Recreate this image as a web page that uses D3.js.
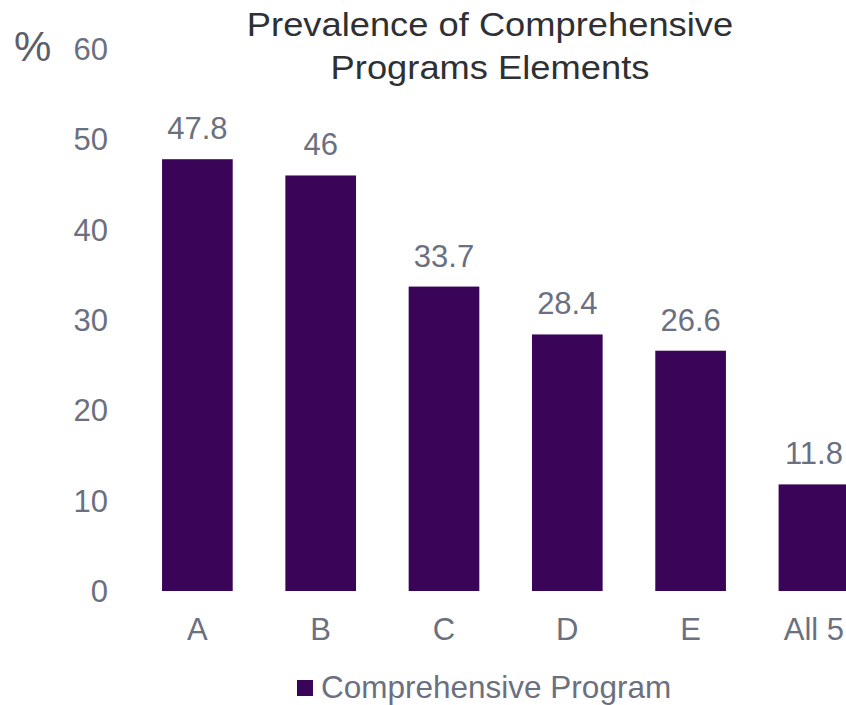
<!DOCTYPE html>
<html><head><meta charset="utf-8">
<script src="https://cdn.jsdelivr.net/npm/d3@7"></script>
<style>body{margin:0;background:#fff}svg{display:block}text{font-family:"Liberation Sans",Arial,sans-serif}</style>
</head><body>
<svg id="c" width="846" height="705"></svg>
<script>
const categories = ["A","B","C","D","E","All 5"];
const values = [47.8, 46, 33.7, 28.4, 26.6, 11.8];
const yTicks = [0,10,20,30,40,50,60];
const titleLines = ["Prevalence of Comprehensive","Programs Elements"];
const seriesName = "Comprehensive Program";

const svg = d3.select("#c");
const barColor = "#3a0459", textGray = "#6b7080", titleColor = "#2e3034";
const y = d3.scaleLinear().domain([0,60]).range([591,49]);
const x = d3.scaleBand().domain(categories).range([109.4,901.9]).padding(0.427);

// y tick labels
svg.append("g").selectAll("text").data(yTicks).join("text")
  .attr("x",108).attr("y",d=>y(d)+11)
  .attr("text-anchor","end").attr("font-size",31).attr("fill",textGray).text(d=>d);
svg.append("text").attr("x",14).attr("y",61).attr("font-size",42).attr("fill","#5b5f6c").text("%");

// bars
svg.append("g").selectAll("rect").data(values).join("rect")
  .attr("x",(d,i)=>x(categories[i])).attr("width",x.bandwidth())
  .attr("y",d=>y(d)).attr("height",d=>y(0)-y(d)).attr("fill",barColor);

// value labels
svg.append("g").selectAll("text").data(values).join("text")
  .attr("x",(d,i)=>x(categories[i])+x.bandwidth()/2).attr("y",d=>y(d)-20)
  .attr("text-anchor","middle").attr("font-size",31).attr("fill",textGray).text(d=>d);

// category labels
svg.append("g").selectAll("text").data(categories).join("text")
  .attr("x",d=>x(d)+x.bandwidth()/2).attr("y",640)
  .attr("text-anchor","middle").attr("font-size",31).attr("fill",textGray).text(d=>d);

// title
const tl = svg.append("g").selectAll("text").data(titleLines).join("text")
  .attr("x",490).attr("y",(d,i)=>36+i*43).attr("text-anchor","middle")
  .attr("font-size",33).attr("fill",titleColor).text(d=>d);
tl.each(function(d,i){ const w=this.getComputedTextLength(); d3.select(this).attr("textLength", w*1.1).attr("lengthAdjust","spacingAndGlyphs"); });

// legend
svg.append("rect").attr("x",297).attr("y",680).attr("width",16).attr("height",16).attr("fill",barColor);
svg.append("text").attr("x",321).attr("y",698).attr("font-size",31.5).attr("fill",textGray).text(seriesName);
</script>
</body></html>
